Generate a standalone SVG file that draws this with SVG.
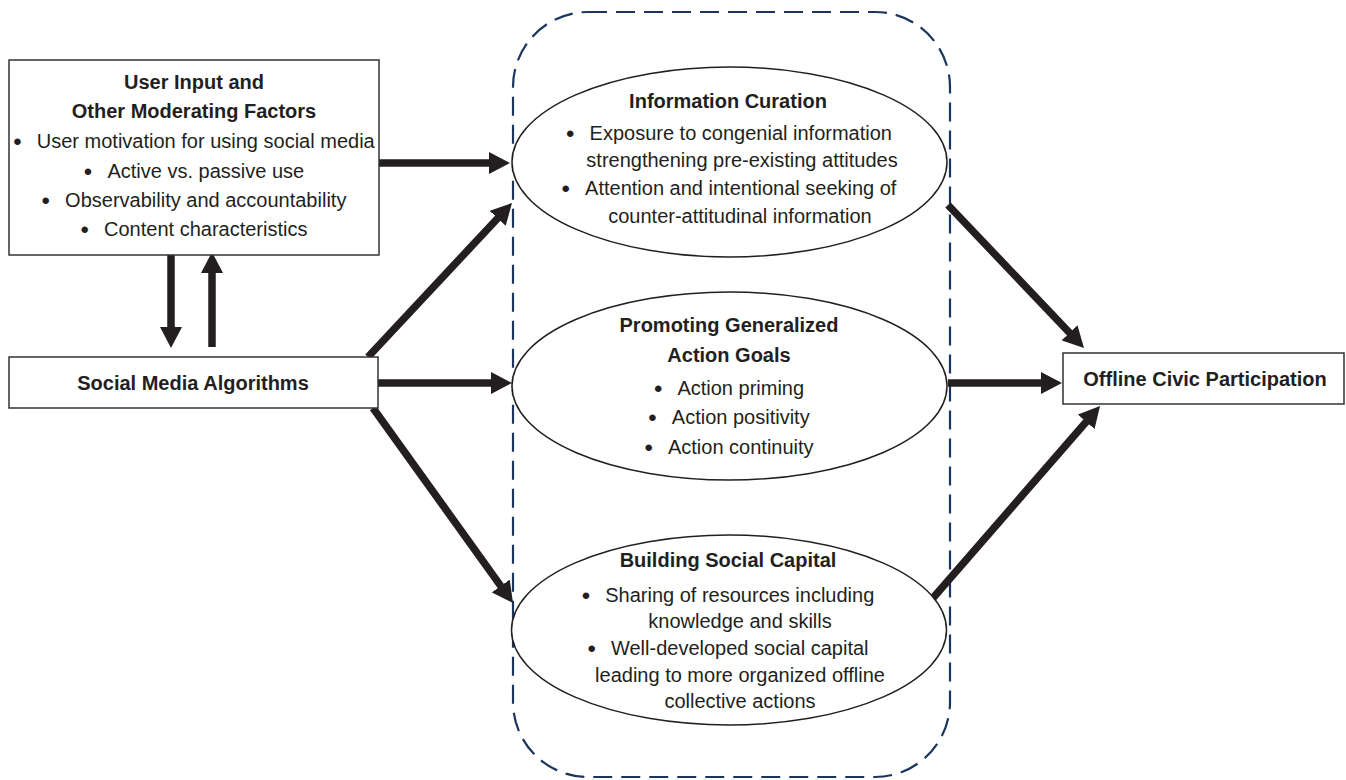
<svg xmlns="http://www.w3.org/2000/svg" width="1346" height="780" viewBox="0 0 1346 780">
<style>
  .box { fill: #ffffff; stroke: #333333; stroke-width: 1.5; }
  .ell { fill: #ffffff; stroke: #231f20; stroke-width: 1.5; }
  .t { font-family: "Liberation Sans", Arial, sans-serif; font-size: 20px; fill: #231f20; text-anchor: middle; }
  .b { font-weight: bold; }
  .bl { font-size: 24px; }
  .conn { stroke: #231f20; stroke-width: 7.5; fill: none; marker-end: url(#ah); }
  .group { fill: none; stroke: #1b365d; stroke-width: 2.2; stroke-dasharray: 19 9; }
</style>
<defs>
  <marker id="ah" markerUnits="userSpaceOnUse" markerWidth="21" markerHeight="22" viewBox="0 0 21 22" refX="10" refY="11" orient="auto">
    <path d="M0,0 L21,11 L0,22 z" fill="#231f20"/>
  </marker>
</defs>
<rect width="1346" height="780" fill="#ffffff"/>

<g id="mechanisms-group">
  <rect class="group" x="513" y="12" width="437" height="765" rx="75" ry="75"/>
</g>

<g id="connectors">
  <line class="conn" x1="379" y1="163" x2="499" y2="163"/>
  <line class="conn" x1="368" y1="357" x2="504.5" y2="211"/>
  <line class="conn" x1="378" y1="383" x2="501" y2="383"/>
  <line class="conn" x1="373" y1="408" x2="506.6" y2="594.1"/>
  <line class="conn" x1="948" y1="205" x2="1076.4" y2="340"/>
  <line class="conn" x1="948" y1="383" x2="1051" y2="383"/>
  <line class="conn" x1="933" y1="598" x2="1092.8" y2="414.3"/>
  <line class="conn" x1="171" y1="255" x2="171" y2="337"/>
  <line class="conn" x1="212" y1="347" x2="212" y2="263"/>
</g>

<g id="user-input">
  <rect class="box" x="9" y="60" width="370" height="195"/>
  <text class="t b" x="194" y="89">User Input and</text>
  <text class="t b" x="194" y="118">Other Moderating Factors</text>
  <text class="t" x="194" y="148"><tspan class="bl" dy="1.5">•</tspan><tspan dy="-1.5">&#160;&#160;&#8201;User motivation for using social media</tspan></text>
  <text class="t" x="194" y="178"><tspan class="bl" dy="1.5">•</tspan><tspan dy="-1.5">&#160;&#160;&#8201;Active vs. passive use</tspan></text>
  <text class="t" x="194" y="207"><tspan class="bl" dy="1.5">•</tspan><tspan dy="-1.5">&#160;&#160;&#8201;Observability and accountability</tspan></text>
  <text class="t" x="194" y="236"><tspan class="bl" dy="1.5">•</tspan><tspan dy="-1.5">&#160;&#160;&#8201;Content characteristics</tspan></text>
</g>

<g id="social-media-algorithms">
  <rect class="box" x="9" y="357" width="369" height="51"/>
  <text class="t b" x="193" y="390">Social Media Algorithms</text>
</g>

<g id="information-curation">
  <ellipse class="ell" cx="729.5" cy="162" rx="217.5" ry="95"/>
  <text class="t b" x="728" y="108">Information Curation</text>
  <text class="t" x="729" y="140"><tspan class="bl" dy="1.5">•</tspan><tspan dy="-1.5">&#160;&#160;&#8201;Exposure to congenial information</tspan></text>
  <text class="t" x="742" y="167">strengthening pre-existing attitudes</text>
  <text class="t" x="729" y="195"><tspan class="bl" dy="1.5">•</tspan><tspan dy="-1.5">&#160;&#160;&#8201;Attention and intentional seeking of</tspan></text>
  <text class="t" x="740" y="223">counter-attitudinal information</text>
</g>

<g id="action-goals">
  <ellipse class="ell" cx="729.5" cy="386" rx="217.5" ry="94"/>
  <text class="t b" x="729" y="332">Promoting Generalized</text>
  <text class="t b" x="729" y="362">Action Goals</text>
  <text class="t" x="729" y="395"><tspan class="bl" dy="1.5">•</tspan><tspan dy="-1.5">&#160;&#160;&#8201;Action priming</tspan></text>
  <text class="t" x="729" y="424"><tspan class="bl" dy="1.5">•</tspan><tspan dy="-1.5">&#160;&#160;&#8201;Action positivity</tspan></text>
  <text class="t" x="729" y="454"><tspan class="bl" dy="1.5">•</tspan><tspan dy="-1.5">&#160;&#160;&#8201;Action continuity</tspan></text>
</g>

<g id="social-capital">
  <ellipse class="ell" cx="729" cy="630" rx="217.5" ry="95"/>
  <text class="t b" x="728" y="567">Building Social Capital</text>
  <text class="t" x="728" y="602"><tspan class="bl" dy="1.5">•</tspan><tspan dy="-1.5">&#160;&#160;&#8201;Sharing of resources including</tspan></text>
  <text class="t" x="740" y="628">knowledge and skills</text>
  <text class="t" x="728" y="655"><tspan class="bl" dy="1.5">•</tspan><tspan dy="-1.5">&#160;&#160;&#8201;Well-developed social capital</tspan></text>
  <text class="t" x="740" y="682">leading to more organized offline</text>
  <text class="t" x="740" y="708">collective actions</text>
</g>

<g id="offline-civic-participation">
  <rect class="box" x="1063" y="353" width="281" height="51"/>
  <text class="t b" x="1205" y="386">Offline Civic Participation</text>
</g>
</svg>
